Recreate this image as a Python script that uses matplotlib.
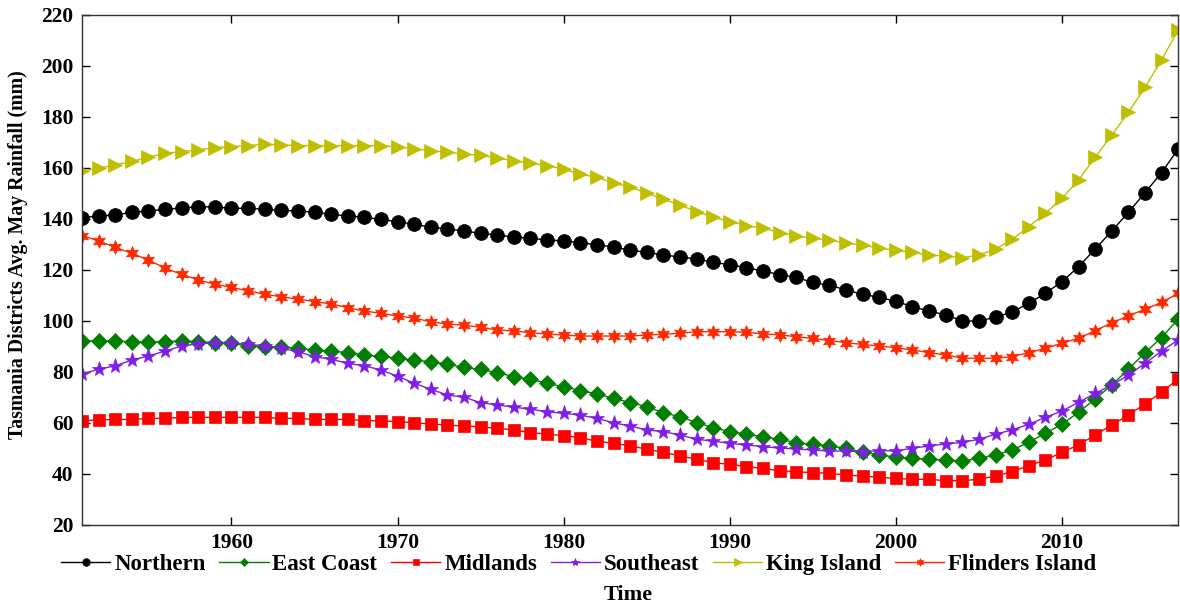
import numpy as np
import matplotlib
matplotlib.use("Agg")
import matplotlib.pyplot as plt

plt.rcParams['font.family'] = ['Liberation Serif', 'DejaVu Serif']
plt.rcParams['font.weight'] = 'bold'

years = list(range(1951, 2018))

northern = [140.5, 141.2, 141.6, 142.6, 143.1, 143.8, 144.3, 144.8, 144.7, 144.2,
            144.2, 143.8, 143.4, 143.1, 142.7, 141.8, 141.2, 140.6, 139.9, 138.9,
            138.0, 136.7, 136.1, 135.3, 134.4, 133.7, 132.9, 132.4, 131.8, 131.4,
            130.7, 129.9, 129.0, 127.8, 126.9, 125.9, 125.1, 124.3, 123.0, 122.1,
            120.9, 119.6, 118.2, 117.1, 115.1, 114.0, 112.2, 110.4, 109.3, 107.7,
            105.6, 103.9, 102.4, 100.0, 100.0, 101.5, 103.5, 106.9, 110.9, 115.4,
            121.3, 128.2, 135.3, 142.6, 150.3, 158.2, 167.5]

east_coast = [92.2, 92.2, 92.2, 91.8, 91.8, 91.9, 92.2, 91.9, 91.5, 91.3,
              90.2, 89.9, 89.9, 89.3, 88.6, 88.2, 87.6, 86.7, 86.1, 85.4,
              84.7, 84.0, 83.1, 81.8, 81.0, 79.7, 78.2, 77.1, 75.6, 74.2,
              72.7, 71.4, 69.7, 68.0, 66.4, 64.0, 62.5, 60.1, 58.2, 56.6,
              55.6, 54.6, 53.6, 52.3, 51.6, 51.1, 50.0, 48.6, 47.5, 46.6,
              46.1, 45.8, 45.5, 45.1, 46.1, 47.5, 49.4, 52.4, 56.0, 59.5,
              64.2, 69.4, 74.9, 81.1, 87.6, 93.5, 100.8]

midlands = [60.9, 61.2, 61.4, 61.4, 61.8, 61.8, 62.2, 62.2, 62.2, 62.2,
            62.2, 62.2, 61.8, 61.8, 61.4, 61.4, 61.4, 60.9, 60.9, 60.5,
            60.1, 59.6, 59.2, 58.8, 58.5, 57.9, 57.3, 56.2, 55.7, 55.0,
            54.2, 52.9, 52.0, 51.1, 49.7, 48.5, 47.1, 45.8, 44.4, 43.8,
            42.9, 42.2, 41.3, 40.9, 40.5, 40.3, 39.6, 39.2, 38.7, 38.3,
            37.9, 37.9, 37.4, 37.4, 37.9, 39.2, 40.9, 43.3, 45.5, 48.5,
            51.4, 55.3, 59.2, 63.1, 67.5, 72.1, 77.3]

southeast = [79.2, 81.1, 82.4, 84.7, 86.3, 88.2, 90.2, 91.0, 91.5, 91.3,
             90.9, 90.2, 89.3, 88.0, 86.0, 85.0, 83.4, 82.4, 80.8, 78.3,
             75.6, 73.2, 71.0, 70.1, 68.0, 67.1, 66.2, 65.4, 64.4, 63.8,
             63.1, 61.8, 60.1, 58.8, 57.3, 56.6, 55.3, 53.6, 52.9, 52.0,
             51.4, 50.7, 50.2, 49.8, 49.4, 49.0, 49.0, 48.8, 49.1, 49.1,
             50.1, 51.0, 51.8, 52.4, 53.6, 55.6, 57.3, 59.5, 62.2, 64.7,
             68.1, 71.6, 74.9, 78.8, 83.4, 88.2, 92.6]

king_island = [158.8, 159.9, 161.2, 162.6, 164.2, 165.8, 166.4, 167.1, 168.0, 168.4,
               168.8, 169.3, 169.0, 168.8, 168.8, 168.8, 168.8, 168.8, 168.8, 168.2,
               167.5, 166.8, 166.2, 165.5, 165.0, 163.8, 162.9, 161.8, 160.9, 159.5,
               157.6, 156.3, 154.2, 152.4, 150.3, 147.7, 145.5, 142.9, 140.7, 139.0,
               137.4, 136.4, 134.7, 133.3, 132.4, 131.8, 130.5, 129.8, 128.5, 127.8,
               126.9, 125.9, 125.5, 124.8, 125.9, 128.2, 132.0, 137.0, 142.2, 148.1,
               155.3, 164.2, 172.9, 181.8, 191.6, 202.4, 214.1]

flinders_island = [133.5, 131.4, 128.9, 126.5, 123.9, 120.7, 118.3, 116.1, 114.4, 113.2,
                   111.8, 110.5, 109.5, 108.6, 107.6, 106.7, 105.2, 103.9, 103.0, 102.0,
                   101.1, 99.7, 98.8, 98.4, 97.5, 96.5, 96.1, 95.4, 94.9, 94.5,
                   94.1, 94.1, 94.1, 94.1, 94.5, 94.8, 95.2, 95.8, 95.8, 95.8,
                   95.6, 94.9, 94.6, 93.8, 93.2, 92.3, 91.5, 90.8, 90.2, 89.5,
                   88.6, 87.6, 86.7, 85.4, 85.4, 85.4, 86.0, 87.6, 89.3, 91.3,
                   93.2, 96.2, 99.3, 102.0, 104.6, 107.3, 110.9]

names = ['Northern', 'East Coast', 'Midlands', 'Southeast', 'King Island', 'Flinders Island']
series = [northern, east_coast, midlands, southeast, king_island, flinders_island]
colors = ['#000000', '#007F00', '#FF0000', '#7F1FE6', '#BFBF00', '#FF2A00']
markers = ['o', 'D', 's', '*', '>', (6, 1, 0)]
msizes = [10, 8, 8.5, 11, 10.5, 10]

fig = plt.figure(figsize=(11.8, 6.04), dpi=100)
ax = fig.add_axes([0.0695, 0.1308, 0.929, 0.8444])

for name, vals, c, m, ms in zip(names, series, colors, markers, msizes):
    ax.plot(years, vals, color=c, marker=m, markersize=ms, linewidth=1.0,
            markeredgewidth=0.5, markeredgecolor=c, label=name)

ax.set_xlim(1951, 2017)
ax.set_ylim(20, 220)
ax.set_yticks(np.arange(20, 221, 20))
ax.set_xticks(np.arange(1960, 2011, 10))
ax.tick_params(direction='in', top=True, right=True, length=6, width=1,
               labelsize=15.5, pad=6)
for lab in ax.get_xticklabels() + ax.get_yticklabels():
    lab.set_fontweight('bold')
for s in ax.spines.values():
    s.set_linewidth(1.0)
    s.set_color('#333333')

ax.set_ylabel('Tasmania Districts Avg. May Rainfall (mm)', fontsize=14.3,
              fontweight='bold')
ax.yaxis.set_label_coords(-0.0495, 0.531)
fig.text(0.532, 0.015, 'Time', fontsize=16, fontweight='bold', ha='center', va='center')

leg = fig.legend(loc='center left', bbox_to_anchor=(0.0517, 0.066), ncol=6,
                 frameon=False, markerscale=0.55, handlelength=2.15,
                 handletextpad=0.17, columnspacing=0.6, borderaxespad=0,
                 borderpad=0, prop={'weight': 'bold', 'size': 16.5})

fig.savefig('out.png', dpi=100)
